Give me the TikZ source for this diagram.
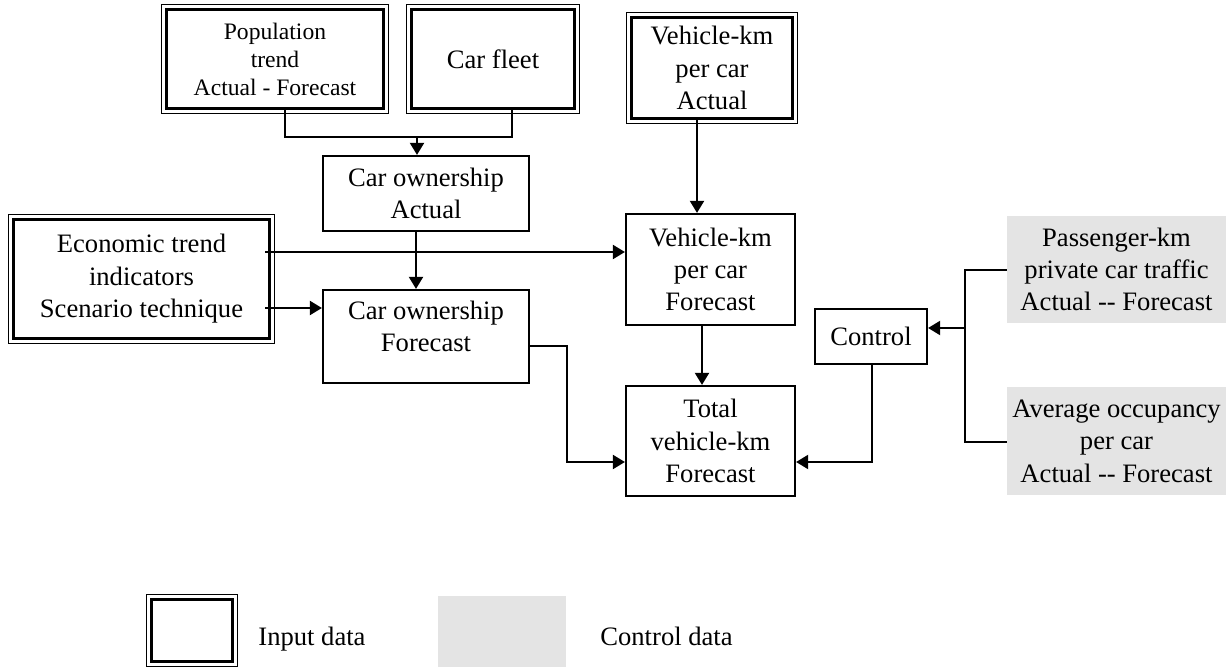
\documentclass[tikz,border=0pt]{standalone}
\usepackage{fontspec}
\setmainfont{Liberation Serif}
\usetikzlibrary{arrows.meta}
\definecolor{ctrlgray}{RGB}{228,228,228}
\tikzset{
  inbox/.style={draw, line width=1.3pt, align=center, inner sep=0pt,
    append after command={\pgfextra{\draw[line width=0.6pt] ([shift={(-2pt,-2pt)}]\tikzlastnode.south west) rectangle ([shift={(2pt,2pt)}]\tikzlastnode.north east);}}},
  calcbox/.style={draw, line width=1.1pt, align=center, inner sep=0pt},
  ctrlbox/.style={fill=ctrlgray, align=center, inner sep=0pt},
  link/.style={line width=1pt},
  arr/.style={link, -{Triangle[length=6pt,width=7pt]}}
}

\begin{document}
\begin{tikzpicture}[x=0.5pt, y=-0.5pt, font=\fontsize{13.3}{16.2}\selectfont]
    \useasboundingbox (0,0) rectangle (1226,667);

    % input data
    \node[inbox, minimum width=108.4pt, minimum height=49.4pt, font=\fontsize{11.8}{14}\selectfont] (pop) at (275,59) {Population\\trend\\Actual - Forecast};
    \node[inbox, minimum width=81.4pt, minimum height=49.4pt] (fleet) at (493,59) {Car fleet};
    \node[inbox, minimum width=80.4pt, minimum height=50.4pt] (vkmact) at (712,68) {Vehicle-km\\per car\\Actual};
    \node[inbox, minimum width=127.9pt, minimum height=59.4pt] (econ) at (141.5,279) {Economic trend\\indicators\\Scenario technique};

    % calculated
    \node[calcbox, minimum width=103pt, minimum height=37.5pt] (ownact) at (426,193.5) {Car ownership\\Actual};
    \node[calcbox, minimum width=103pt, minimum height=46.5pt] (ownfc) at (426,336.5) {Car ownership\\Forecast\\[-6pt]\mbox{}};
    \node[calcbox, minimum width=84.5pt, minimum height=55.5pt] (vkmfc) at (710.5,269.5) {Vehicle-km\\per car\\Forecast};
    \node[calcbox, minimum width=84.5pt, minimum height=55pt] (total) at (710.5,441) {Total\\vehicle-km\\Forecast};
    \node[calcbox, minimum width=56pt, minimum height=27.5pt] (control) at (871,336.5) {Control};

    % control data
    \node[ctrlbox, minimum width=109.5pt, minimum height=53.5pt] (pkm) at (1116.5,269.5) {Passenger-km\\private car traffic\\Actual -{}- Forecast};
    \node[ctrlbox, minimum width=109.5pt, minimum height=54pt] (occ) at (1116.5,441) {Average occupancy\\per car\\Actual -{}- Forecast};

    % connectors
    \coordinate (pj) at (285,137);
    \coordinate (fj) at (512,137);
    \coordinate (j) at (417,137);
    \draw[link] (pj |- pop.south) -- (pj) -- (fj) -- (fj |- fleet.south);
    \draw[arr] (j) -- (j |- ownact.north);

    \coordinate (va) at (697,0);
    \coordinate (oa) at (416,0);
    \coordinate (vb) at (702,0);
    \draw[arr] (va |- vkmact.south) -- (va |- vkmfc.north);
    \draw[arr] (oa |- ownact.south) -- (oa |- ownfc.north);
    \draw[arr] (vb |- vkmfc.south) -- (vb |- total.north);

    \coordinate (e1) at (265,252);
    \coordinate (e2) at (265,308);
    \draw[arr] (e1) -- (e1 -| vkmfc.west);
    \draw[arr] (e2) -- (e2 -| ownfc.west);

    \coordinate (o1) at (567,346);
    \coordinate (t1) at (567,462);
    \draw[arr] (o1 -| ownfc.east) -- (o1) -- (t1) -- (t1 -| total.west);

    \coordinate (c1) at (872,462);
    \draw[arr] (c1 |- control.south) -- (c1) -- (c1 -| total.east);

    \coordinate (k0) at (965,328);
    \coordinate (k1) at (965,270);
    \coordinate (k2) at (965,442);
    \draw[link] (k1 -| pkm.west) -- (k1) -- (k2) -- (k2 -| occ.west);
    \draw[arr] (k0) -- (k0 -| control.east);

    % legend
    \node[inbox, minimum width=40.4pt, minimum height=30.9pt] (keyin) at (192,630.5) {};
    \node[anchor=base west, inner sep=0pt] (keyinlbl) at (258,646) {Input data};
    \node[ctrlbox, minimum width=64pt, minimum height=35.5pt] (keyctl) at (502,631.5) {};
    \node[anchor=base west, inner sep=0pt] (keyctllbl) at (600,646) {Control data};
\end{tikzpicture}
\end{document}
